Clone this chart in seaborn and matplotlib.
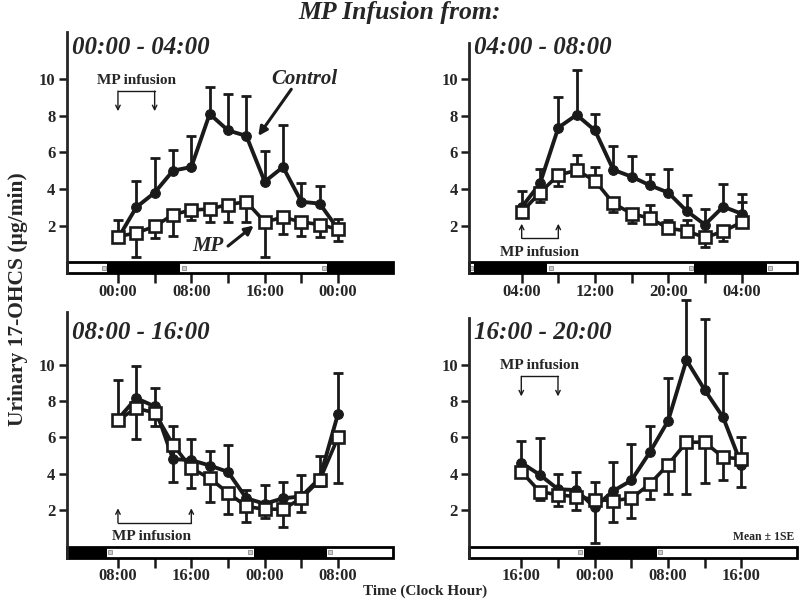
import numpy as np
import matplotlib
matplotlib.use("Agg")
import matplotlib.pyplot as plt
from matplotlib.patches import Rectangle
import seaborn as sns

# ---- data (clock hours, ug/min) ----
# panel 1: MP infusion 00:00 - 04:00
p1_times = [0, 2, 4, 6, 8, 10, 12, 14, 16, 18, 20, 22, 24]
p1_ctrl = [1.3, 3.0, 3.8, 5.0, 5.2, 8.1, 7.2, 6.9, 4.4, 5.2, 3.3, 3.2, 1.8]
p1_ctrl_up = [1.0, 1.45, 1.9, 1.15, 1.7, 1.45, 2.0, 2.2, 1.7, 2.3, 1.0, 0.95, 0.55]
p1_ctrl_dn = [0, 0, 0, 0, 0, 0, 0, 0, 0, 0, 0, 0, 0]
p1_mp = [1.4, 1.6, 1.95, 2.6, 2.85, 2.9, 3.15, 3.3, 2.2, 2.45, 2.2, 2.05, 1.8]
p1_mp_up = [0, 0, 0, 0, 0, 0, 0, 0, 0, 0, 0, 0, 0]
p1_mp_dn = [0.3, 1.3, 0.65, 1.15, 0.55, 0.7, 0.95, 1.1, 1.9, 0.9, 0.75, 0.7, 0.65]

# panel 2: MP infusion 04:00 - 08:00
p2_times = [4, 6, 8, 10, 12, 14, 16, 18, 20, 22, 24, 26, 28]
p2_ctrl = [3.0, 4.3, 7.35, 8.05, 7.2, 5.05, 4.67, 4.2, 3.8, 2.8, 2.05, 3.03, 2.65]
p2_ctrl_up = [0.9, 0.77, 1.7, 2.43, 0.9, 1.32, 1.11, 0.62, 1.28, 0.86, 0.85, 1.24, 1.1]
p2_ctrl_dn = [0, 0, 0, 0, 0, 0, 0, 0, 0, 0, 0, 0, 0]
p2_mp = [2.74, 3.8, 4.76, 5.02, 4.45, 3.22, 2.65, 2.4, 1.86, 1.7, 1.35, 1.68, 2.18]
p2_mp_up = [0, 0, 0, 0.85, 0.73, 0, 0, 0.7, 0.45, 0.58, 0, 0, 1.11]
p2_mp_dn = [0, 0.5, 0.6, 0, 0, 0.5, 0.52, 0, 0, 0, 0.5, 0.55, 0]

# panel 3: MP infusion 08:00 - 16:00
p3_times = [8, 10, 12, 14, 16, 18, 20, 22, 24, 26, 28, 30, 32]
p3_ctrl = [7.0, 8.15, 7.7, 4.8, 4.75, 4.45, 4.1, 2.65, 2.35, 2.65, 2.75, 3.75, 7.3]
p3_ctrl_up = [2.15, 1.75, 1.0, 1.8, 1.15, 0.8, 1.5, 0.45, 1.05, 0.9, 1.2, 1.2, 2.25]
p3_ctrl_dn = [0, 0, 0, 0, 0, 0, 0, 0, 0, 0, 0, 0, 0]
p3_mp = [6.95, 7.6, 7.35, 5.6, 4.3, 3.75, 2.95, 2.2, 2.05, 2.05, 2.65, 3.65, 6.0]
p3_mp_up = [0, 0, 0, 0, 0, 0, 0, 0, 0, 0, 0, 0, 0]
p3_mp_dn = [0, 1.7, 0.75, 2.05, 1.1, 1.3, 1.15, 0.85, 0.5, 1.0, 0.75, 0.3, 2.5]

# panel 4: MP infusion 16:00 - 20:00
p4_times = [16, 18, 20, 22, 24, 26, 28, 30, 32, 34, 36, 38, 40]
p4_ctrl = [4.6, 3.95, 3.15, 3.1, 2.15, 3.05, 3.63, 5.17, 6.9, 10.24, 8.6, 7.1, 4.5]
p4_ctrl_up = [1.2, 2.03, 0.81, 0.98, 0, 1.58, 2.0, 1.45, 2.37, 3.3, 3.9, 2.42, 1.52]
p4_ctrl_dn = [0, 0, 0, 0, 1.95, 0, 0, 0, 0, 0, 0, 0, 0]
p4_mp = [4.12, 3.02, 2.84, 2.74, 2.58, 2.52, 2.65, 3.43, 4.5, 5.73, 5.73, 4.9, 4.82]
p4_mp_up = [0, 0, 0, 0, 0.96, 0, 0, 0, 0, 0, 0, 0, 0]
p4_mp_dn = [0, 0.48, 0.62, 0.74, 0, 1.16, 1.1, 0.8, 1.63, 2.86, 2.23, 1.27, 1.55]

titles = ["00:00 - 04:00", "04:00 - 08:00", "08:00 - 16:00", "16:00 - 20:00"]
infusions = [(0, 4), (4, 8), (8, 16), (16, 20)]
lights_off = 22.8
lights_on = 6.8

sns.set_theme(style="ticks")
plt.rcParams["font.family"] = ["Liberation Serif", "DejaVu Serif"]
plt.rcParams["font.weight"] = "bold"

W, H = 800, 599
fig = plt.figure(figsize=(W / 100, H / 100), dpi=100)


def rect(left, right, top, bottom):
    return [left / W, 1 - bottom / H, (right - left) / W, (bottom - top) / H]


# axes boxes in pixels (left, right, top, bottom)
boxes = [rect(66.6, 393.1, 24.3, 273.5), rect(469.0, 796.5, 24.3, 273.5),
         rect(66.6, 393.1, 297.2, 557.8), rect(469.0, 796.5, 297.2, 557.8)]
ylims = [(-0.62, 13.0), (-0.62, 13.0), (-0.62, 13.7), (-0.62, 13.7)]
xoffs = [(-5.6, 30.0), (-5.75, 30.0), (-5.6, 30.0), (-5.7, 30.0)]
spine_tops = [12.6, 12.0, 12.9, 12.55]

panels = [
    (p1_times, p1_ctrl, p1_ctrl_up, p1_ctrl_dn, p1_mp, p1_mp_up, p1_mp_dn),
    (p2_times, p2_ctrl, p2_ctrl_up, p2_ctrl_dn, p2_mp, p2_mp_up, p2_mp_dn),
    (p3_times, p3_ctrl, p3_ctrl_up, p3_ctrl_dn, p3_mp, p3_mp_up, p3_mp_dn),
    (p4_times, p4_ctrl, p4_ctrl_up, p4_ctrl_dn, p4_mp, p4_mp_up, p4_mp_dn),
]


def draw_err(ax, x, y, up, dn):
    x, y, up, dn = map(np.asarray, (x, y, up, dn))
    for err, sign in ((up, 1), (dn, -1)):
        m = err > 0
        if not m.any():
            continue
        zeros = np.zeros(m.sum())
        yerr = [zeros, err[m]] if sign > 0 else [err[m], zeros]
        eb = ax.errorbar(x[m], y[m], yerr=yerr, fmt="none", ecolor="k",
                         elinewidth=2, capsize=3.5, capthick=2, zorder=2)
        for art in eb.lines[1] + eb.lines[2]:
            art.set_clip_on(False)
        # only keep the cap at the far end
        if len(eb.lines[1]) == 2:
            eb.lines[1][0 if sign > 0 else 1].set_visible(False)


def arrow(ax, start, end, **kw):
    ax.annotate("", xy=end, xytext=start,
                arrowprops=dict(color="k", shrinkA=0, shrinkB=0, **kw))


for i, (times, ctrl, cu, cd, mp, mu, md) in enumerate(panels):
    ax = fig.add_axes(boxes[i])
    ax.set_facecolor("none")
    start = times[0]
    ax.set_xlim(start + xoffs[i][0], start + xoffs[i][1])
    ax.set_ylim(*ylims[i])
    x0, x1 = ax.get_xlim()

    # light / dark bar
    ax.add_patch(Rectangle((x0, -0.62), x1 - x0, 0.62, facecolor="white",
                           edgecolor="none", zorder=1, clip_on=False))
    for k in range(-1, 3):
        a, b = lights_off - 24 + 24 * k, lights_on + 24 * k
        a, b = max(a, x0), min(b, x1)
        if b > a:
            ax.add_patch(Rectangle((a, -0.62), b - a, 0.62, facecolor="black",
                                   edgecolor="none", zorder=1, clip_on=False))
        for tr, off in ((lights_off - 24 + 24 * k, -0.35), (lights_on + 24 * k, 0.35)):
            if x0 + 0.5 < tr < x1 - 0.5:
                ax.plot(tr + off, -0.31, marker="s", ms=3, mfc="0.8", mec="0.55",
                        mew=0.6, zorder=1.5, clip_on=False)
    ax.add_patch(Rectangle((x0, -0.62), x1 - x0, 0.62, facecolor="none",
                           edgecolor="black", lw=2, zorder=1.6, clip_on=False))

    # error bars, then lines with markers
    draw_err(ax, times, ctrl, cu, cd)
    draw_err(ax, times, mp, mu, md)
    sns.lineplot(x=times, y=ctrl, ax=ax, color="k", lw=2.8, marker="o",
                 markersize=7, mfc="k", mec="k", zorder=3)
    sns.lineplot(x=times, y=mp, ax=ax, color="k", lw=2.6, marker="s",
                 markersize=8.5, mfc="white", mec="k", mew=1.9, zorder=4)

    # axes styling
    sns.despine(ax=ax, bottom=True)
    ax.spines["left"].set_linewidth(2)
    ax.spines["left"].set_bounds(-0.62, spine_tops[i])
    ax.set_yticks([2, 4, 6, 8, 10])
    ax.set_xticks(range(start, start + 25, 8))
    ax.set_xticklabels(["%02d:00" % (h % 24) for h in range(start, start + 25, 8)])
    ax.set_xticks(range(start + 4, start + 25, 8), minor=True)
    ax.tick_params(axis="both", which="both", direction="out", length=6, width=1.8,
                   labelsize=12, color="k", pad=2)
    ax.tick_params(axis="x", which="both", length=7, pad=0.5)
    ax.set_xlabel("")
    ax.set_ylabel("")
    ax.grid(False)

    ax.text(x0 + 0.55, 11.75, titles[i], fontsize=18, fontstyle="italic",
            fontweight="bold", ha="left", va="center")

    # MP infusion bracket
    s, e = infusions[i]
    if i in (0, 3):
        ybr, ytip, ytxt = 9.35, 8.25, 9.95
    else:
        ybr, ytip, ytxt = 1.3, 2.1, 0.55
    ax.plot([s, e], [ybr, ybr], color="k", lw=1)
    for xx in (s, e):
        arrow(ax, (xx, ybr), (xx, ytip), arrowstyle="->", lw=1, mutation_scale=8)
    ax.text((s + e) / 2 if i != 2 else (s + e) / 2 - 0.3, ytxt, "MP infusion",
            fontsize=11, ha="center", va="center")

    if i == 0:
        ax.text(20.3, 10.0, "Control", fontsize=15, fontstyle="italic",
                ha="center", va="center")
        arrow(ax, (18.9, 9.45), (15.3, 6.9), arrowstyle="-|>", lw=2.2, mutation_scale=13)
        ax.text(9.8, 0.87, "MP", fontsize=15, fontstyle="italic",
                ha="center", va="center")
        arrow(ax, (12.0, 0.88), (14.8, 2.0), arrowstyle="-|>", lw=2.2, mutation_scale=13)
    if i == 3:
        ax.text(x1 - 0.2, 0.5, "Mean \u00b1 1SE", fontsize=8.5, ha="right", va="center")

fig.text(0.5, 1 - 13 / H, "MP Infusion from:", fontsize=18.5, fontstyle="italic",
         fontweight="bold", ha="center", va="center")
fig.text(18 / W, 0.5, "Urinary 17-OHCS (\u00b5g/min)", fontsize=15.5, rotation=90,
         ha="center", va="center")
fig.text(425 / W, 1 - 591 / H, "Time (Clock Hour)", fontsize=11, ha="center", va="center")

fig.savefig("out.png", dpi=100)
